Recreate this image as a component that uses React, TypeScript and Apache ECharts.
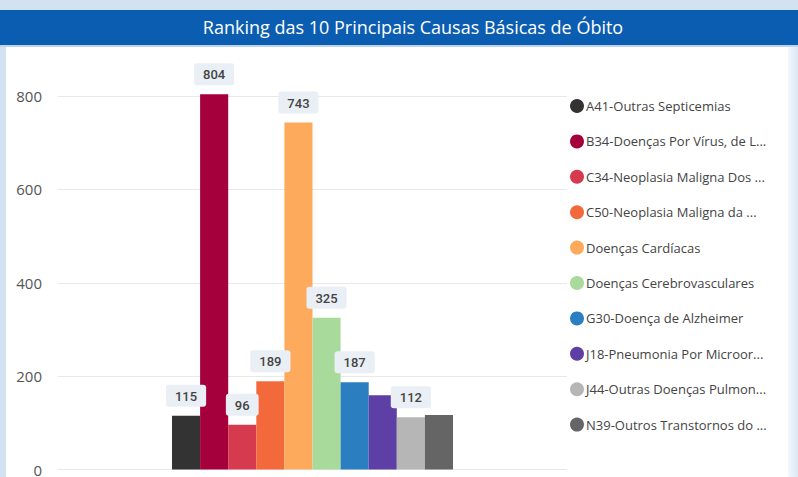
import React, { useEffect, useRef } from "react";
import * as echarts from "echarts";

const titleText = "Ranking das 10 Principais Causas Básicas de Óbito";
const categories = ["Total"];
const seriesNames = [
  "A41-Outras Septicemias",
  "B34-Doenças Por Vírus, de L...",
  "C34-Neoplasia Maligna Dos ...",
  "C50-Neoplasia Maligna da ...",
  "Doenças Cardíacas",
  "Doenças Cerebrovasculares",
  "G30-Doença de Alzheimer",
  "J18-Pneumonia Por Microor...",
  "J44-Outras Doenças Pulmon...",
  "N39-Outros Transtornos do ...",
];
const seriesValues = [115, 804, 96, 189, 743, 325, 187, 159, 112, 117];
const showLabel = [true, true, true, true, true, true, true, false, true, false];
const seriesColors = [
  "#333333",
  "#a6003c",
  "#d63a4e",
  "#f4693c",
  "#fdaa5c",
  "#a8da9c",
  "#2b7fc0",
  "#5d3fa6",
  "#b6b6b6",
  "#656565",
];
const yTicks = [0, 200, 400, 600, 800];

export default function App() {
  const ref = useRef<HTMLDivElement>(null);
  useEffect(() => {
    if (!ref.current) return;
    const chart = echarts.init(ref.current, undefined, { renderer: "svg" });
    chart.setOption({
      animation: false,
      backgroundColor: "#ffffff",
      graphic: [
        { type: "rect", z: -10, silent: true, shape: { x: 0, y: 0, width: 798, height: 477 }, style: { fill: "#d3e2f1" } },
        { type: "rect", z: -9, silent: true, shape: { x: 6, y: 45, width: 782, height: 432 }, style: { fill: "#ffffff" } },
        {
          type: "rect", z: -9, silent: true, shape: { x: 788, y: 45, width: 10, height: 432 },
          style: { fill: new echarts.graphic.LinearGradient(0, 0, 1, 0, [{ offset: 0, color: "#f4f8fc" }, { offset: 1, color: "#dbe7f3" }]) },
        },
        { type: "rect", z: -8, silent: true, shape: { x: 0, y: 10, width: 798, height: 35 }, style: { fill: "#0b5db1" } },
        { type: "rect", z: -8, silent: true, shape: { x: 0, y: 45, width: 798, height: 2 }, style: { fill: "#bcd3ec" } },
      ],
      title: {
        text: titleText,
        left: 408,
        textAlign: "center",
        top: 13,
        textStyle: {
          color: "#ffffff",
          fontSize: 18,
          fontWeight: "normal",
          fontFamily: "'Open Sans', sans-serif",
        },
      },
      legend: {
        orient: "vertical",
        left: 565,
        top: 94,
        icon: "circle",
        itemWidth: 14,
        itemHeight: 14,
        itemGap: 21.4,
        textStyle: { color: "#444444", fontSize: 13, fontFamily: "'Open Sans', sans-serif", padding: [0, 0, 0, -3] },
        data: seriesNames,
      },
      grid: { left: 58, right: 231, top: 96, bottom: 6, containLabel: false },
      xAxis: {
        type: "category",
        data: categories,
        axisLine: { show: false },
        axisTick: { show: false },
        axisLabel: { show: false },
      },
      yAxis: {
        type: "value",
        min: yTicks[0],
        max: yTicks[yTicks.length - 1],
        interval: 200,
        axisLine: { show: false },
        axisTick: { show: false },
        axisLabel: { color: "#555555", fontSize: 15, margin: 16, fontFamily: "'Open Sans', sans-serif" },
        splitLine: { lineStyle: { color: "#e8e8e8", width: 1 } },
      },
      series: seriesNames.map((name, i) => ({
        name,
        type: "bar",
        data: [seriesValues[i]],
        barWidth: 28.1,
        barGap: "0%",
        clip: false,
        itemStyle: { color: seriesColors[i] },
        label: {
          show: showLabel[i],
          position: "top",
          distance: 9,
          color: "#444444",
          fontSize: 13,
          fontWeight: 500,
          fontFamily: "Roboto, sans-serif",
          backgroundColor: "#e9eff5",
          padding: [5, 9, 4, 9],
          borderRadius: 3,
        },
      })),
    });
    return () => chart.dispose();
  }, []);
  return <div ref={ref} style={{ position: "fixed", left: 0, top: 0, width: 798, height: 477 }} />;
}
